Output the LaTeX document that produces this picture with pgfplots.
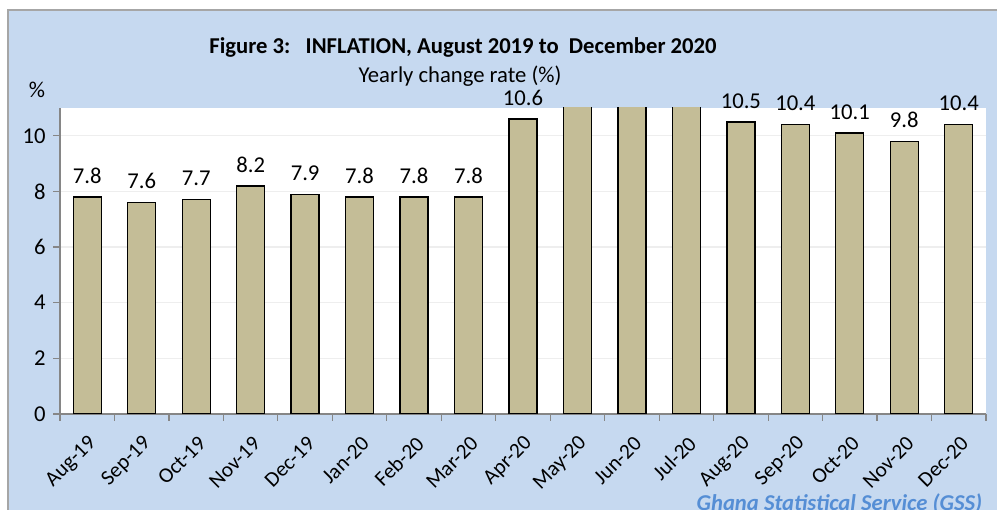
\documentclass[border=0pt]{standalone}
\usepackage{pgfplots}
\pgfplotsset{compat=1.18}
\usepackage{fontspec}
\setmainfont{Carlito}
\definecolor{bgblue}{RGB}{198,217,240}
\definecolor{bartan}{RGB}{196,189,151}
\definecolor{gssblue}{RGB}{85,142,213}
\definecolor{axgray}{RGB}{134,134,134}
\definecolor{gridgray}{RGB}{238,238,238}
\newcommand{\cfont}{\fontsize{17pt}{19pt}\selectfont}
\newcommand{\xfont}{\fontsize{16pt}{18pt}\selectfont}
\begin{document}
\begin{tikzpicture}[x=0.75pt,y=0.75pt]
\useasboundingbox (0,0) rectangle (997,510);
\clip (0,0) rectangle (997,510);
\fill[white] (0,0) rectangle (997,510);
\filldraw[fill=bgblue, draw=gray!70, line width=1.2pt] (8,-20) rectangle (1020,500);
\begin{axis}[
  at={(45pt,72pt)}, anchor=south west,
  scale only axis, width=694.5pt, height=229.5pt,
  xmin=-0.5, xmax=16.5, ymin=0, ymax=11,
  ybar, bar width=21pt, bar shift=0pt,
  axis background/.style={fill=white},
  axis x line*=bottom, axis y line*=left,
  axis line style={-, draw=axgray, line width=0.9pt},
  tick style={draw=axgray, line width=0.9pt},
  tick align=outside, major tick length=5.25pt,
  ytick={0,2,...,10},
  ymajorgrids, grid style={draw=gridgray, line width=0.9pt},
  xtick={-0.5,0.5,...,16.5},
  x tick label as interval,
  xticklabels={Aug-19,Sep-19,Oct-19,Nov-19,Dec-19,Jan-20,Feb-20,Mar-20,Apr-20,May-20,Jun-20,Jul-20,Aug-20,Sep-20,Oct-20,Nov-20,Dec-20},
  yticklabel style={font=\cfont, xshift=-2pt},
  xticklabel style={font=\xfont, xshift=5.3pt, yshift=-13.6pt, rotate=45, anchor=east, inner sep=1pt},
  /pgf/number format/assume math mode=true,
  point meta=explicit symbolic,
  nodes near coords,
  nodes near coords style={font=\cfont, text=black, yshift=6.4pt},
]
\addplot[fill=bartan, draw=black, line width=1pt] coordinates {
(0,7.8)[7.8] (1,7.6)[7.6] (2,7.7)[7.7] (3,8.2)[8.2] (4,7.9)[7.9]
(5,7.8)[7.8] (6,7.8)[7.8] (7,7.8)[7.8] (8,10.6)[10.6] (9,11.3)[]
(10,11.2)[] (11,11.4)[] (12,10.5)[10.5] (13,10.4)[10.4] (14,10.1)[10.1]
(15,9.8)[9.8] (16,10.4)[10.4]
};
\end{axis}
\node[font=\cfont\bfseries] at (463,463) {Figure 3:\ \ \ INFLATION, August 2019 to\ \ December 2020};
\node[font=\cfont] at (460,434) {Yearly change rate (\%)};
\node[font=\cfont] at (37,420) {\%};
\node[anchor=base east, font=\cfont\bfseries\itshape, text=gssblue] at (987,-1) {Ghana Statistical Service (GSS)};
\end{tikzpicture}
\end{document}
